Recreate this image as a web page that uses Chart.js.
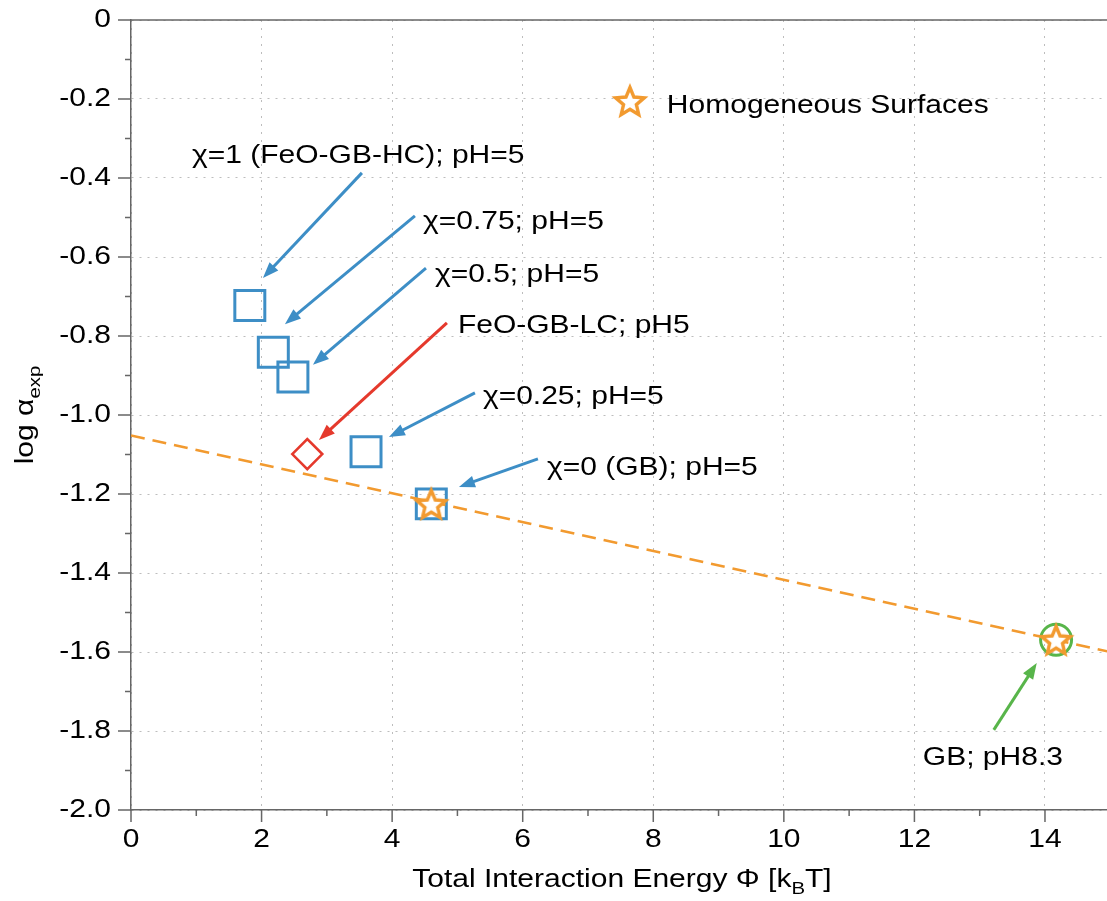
<!DOCTYPE html>
<html><head><meta charset="utf-8">
<script src="https://cdn.jsdelivr.net/npm/chart.js@4"></script>
<style>html,body{margin:0;padding:0;background:#fff;}canvas{display:block;}</style>
</head><body>
<canvas id="c" width="1107" height="901" style="width:1107px;height:901px"></canvas>
<script>
// ---- data ----
const squareLabels = ['χ=1 (FeO-GB-HC); pH=5', 'χ=0.75; pH=5', 'χ=0.5; pH=5', 'χ=0.25; pH=5', 'χ=0 (GB); pH=5'];
const squareX = [1.82, 2.18, 2.48, 3.60, 4.60];
const squareY = [-0.723, -0.841, -0.904, -1.093, -1.225];
const diamondLabel = 'FeO-GB-LC; pH5';
const diamondX = [2.70];
const diamondY = [-1.099];
const circleLabel = 'GB; pH8.3';
const circleX = [14.17];
const circleY = [-1.569];
const starLabel = 'Homogeneous Surfaces';
const starX = [4.60, 14.17];
const starY = [-1.225, -1.569];
const fitX = [0, 15];
const fitY = [-1.052, -1.600];
const xTickValues = [0, 2, 4, 6, 8, 10, 12, 14];
const xMinorTicks = [1, 3, 5, 7, 9, 11, 13];
const yTickValues = [0, -0.2, -0.4, -0.6, -0.8, -1.0, -1.2, -1.4, -1.6, -1.8, -2.0];
const yMinorTicks = [-0.1, -0.3, -0.5, -0.7, -0.9, -1.1, -1.3, -1.5, -1.7, -1.9];

// ---- style ----
const FONT = '"Liberation Sans", Arial, Helvetica, sans-serif';
const FS = 25;
const BLUE = '#3d8ec6', RED = '#e5392c', GREEN = '#58b54a', ORANGE = '#f29a2f', AXIS = '#666';
const STRETCH = 1.2;

// wide text rendering (text stays real canvas text)
const origFill = CanvasRenderingContext2D.prototype.fillText;
CanvasRenderingContext2D.prototype.fillText = function (t, x, y, mw) {
  this.save(); this.translate(x, y); this.scale(STRETCH, 1);
  if (mw === undefined || mw === null) origFill.call(this, t, 0, 0);
  else origFill.call(this, t, 0, 0, mw / STRETCH);
  this.restore();
};

function makeStar(r, color) {
  const s = Math.ceil(2 * (r + 9));
  const c = document.createElement('canvas'); c.width = s; c.height = s;
  const g = c.getContext('2d');
  const cx = s / 2, cy = s / 2 + 1.5, ri = r * 0.45;
  g.beginPath();
  for (let i = 0; i < 10; i++) {
    const a = -Math.PI / 2 + i * Math.PI / 5, rr = i % 2 ? ri : r;
    g.lineTo(cx + rr * Math.cos(a), cy + rr * Math.sin(a));
  }
  g.closePath(); g.fillStyle = '#fff'; g.fill();
  g.lineWidth = 3.4; g.lineJoin = 'miter'; g.strokeStyle = color; g.stroke();
  return c;
}
const starImg = makeStar(15, ORANGE);

const pts = (xs, ys) => xs.map((v, i) => ({x: v, y: ys[i]}));

function drawRich(ctx, parts, x, y, align) {
  let total = 0;
  parts.forEach(p => { ctx.font = (p.sub ? 17 : FS) + 'px ' + FONT; p.w = ctx.measureText(p.t).width * STRETCH; total += p.w; });
  let cx = align === 'center' ? x - total / 2 : x;
  ctx.textAlign = 'left'; ctx.textBaseline = 'alphabetic';
  parts.forEach(p => { ctx.font = (p.sub ? 17 : FS) + 'px ' + FONT; ctx.fillText(p.t, cx, y + (p.sub ? 7 : 0)); cx += p.w; });
}

const annot = {
  id: 'annot',
  afterDraw(chart) {
    const {ctx, chartArea: ca, scales: {x, y}} = chart;
    const X = v => x.getPixelForValue(v), Y = v => y.getPixelForValue(v);
    ctx.save();
    // top frame line
    ctx.strokeStyle = AXIS; ctx.lineWidth = 1.5; ctx.setLineDash([]);
    ctx.beginPath(); ctx.moveTo(ca.left, ca.top); ctx.lineTo(ca.right, ca.top); ctx.stroke();
    // tick marks
    ctx.beginPath();
    yTickValues.forEach(v => { ctx.moveTo(ca.left - 13, Y(v)); ctx.lineTo(ca.left, Y(v)); });
    yMinorTicks.forEach(v => { ctx.moveTo(ca.left - 6, Y(v)); ctx.lineTo(ca.left, Y(v)); });
    xTickValues.forEach(v => { ctx.moveTo(X(v), ca.bottom); ctx.lineTo(X(v), ca.bottom + 12); });
    xMinorTicks.forEach(v => { ctx.moveTo(X(v), ca.bottom); ctx.lineTo(X(v), ca.bottom + 6); });
    ctx.stroke();

    // arrows (data coordinates)
    function arrow(x1, y1, x2, y2, color) {
      const p1 = {x: X(x1), y: Y(y1)}, p2 = {x: X(x2), y: Y(y2)};
      const a = Math.atan2(p2.y - p1.y, p2.x - p1.x), L = 16, W = 6;
      const bx = p2.x - L * Math.cos(a), by = p2.y - L * Math.sin(a);
      ctx.strokeStyle = color; ctx.fillStyle = color; ctx.lineWidth = 3; ctx.lineCap = 'butt';
      ctx.beginPath(); ctx.moveTo(p1.x, p1.y); ctx.lineTo(bx + 2 * Math.cos(a), by + 2 * Math.sin(a)); ctx.stroke();
      ctx.beginPath(); ctx.moveTo(p2.x, p2.y);
      ctx.lineTo(bx + W * Math.sin(a), by - W * Math.cos(a));
      ctx.lineTo(bx - W * Math.sin(a), by + W * Math.cos(a));
      ctx.closePath(); ctx.fill();
    }
    arrow(3.537, -0.387, 2.021, -0.653, BLUE);
    arrow(4.349, -0.496, 2.358, -0.770, BLUE);
    arrow(4.518, -0.628, 2.787, -0.873, BLUE);
    arrow(4.839, -0.767, 2.879, -1.063, RED);
    arrow(5.268, -0.944, 3.951, -1.056, BLUE);
    arrow(6.233, -1.111, 5.023, -1.182, BLUE);
    arrow(13.216, -1.797, 13.874, -1.628, GREEN);

    // labels
    ctx.fillStyle = '#000'; ctx.font = FS + 'px ' + FONT; ctx.textAlign = 'left'; ctx.textBaseline = 'alphabetic';
    const lab = (t, xv, yv) => ctx.fillText(t, X(xv), Y(yv));
    lab(squareLabels[0], 0.934, -0.362);
    lab(squareLabels[1], 4.472, -0.529);
    lab(squareLabels[2], 4.655, -0.663);
    lab(diamondLabel, 5.008, -0.792);
    lab(squareLabels[3], 5.39, -0.972);
    lab(squareLabels[4], 6.371, -1.152);
    lab(circleLabel, 12.129, -1.886);

    // legend
    ctx.drawImage(starImg, X(7.642) - starImg.width / 2, Y(-0.205) - starImg.height / 2);
    lab(starLabel, 8.208, -0.235);

    // axis titles
    drawRich(ctx, [{t: 'Total Interaction Energy Φ [k'}, {t: 'B', sub: true}, {t: 'T]'}], (ca.left + ca.right) / 2 + 3, 887, 'center');
    ctx.save(); ctx.translate(33, (ca.top + ca.bottom) / 2); ctx.rotate(-Math.PI / 2);
    drawRich(ctx, [{t: 'log α'}, {t: 'exp', sub: true}], 0, 0, 'center');
    ctx.restore();
    ctx.restore();
  }
};

const noPad = s => { s.paddingLeft = 0; s.paddingRight = 0; s.paddingTop = 0; s.paddingBottom = 0; };
const tickFont = {size: FS, family: FONT};
new Chart(document.getElementById('c'), {
  type: 'scatter',
  data: {
    datasets: [
      {label: starLabel, data: pts(starX, starY), pointStyle: starImg, pointRadius: 17, showLine: false},
      {label: 'fit', type: 'line', data: pts(fitX, fitY), borderColor: ORANGE, borderWidth: 2.6, borderDash: [14, 8], pointRadius: 0, showLine: true, fill: false},
      {label: circleLabel, data: pts(circleX, circleY), pointStyle: 'circle', pointRadius: 15.5, borderWidth: 3, borderColor: GREEN, backgroundColor: 'rgba(0,0,0,0)', showLine: false},
      {label: diamondLabel, data: pts(diamondX, diamondY), pointStyle: 'rectRot', pointRadius: 15, borderWidth: 2.6, borderColor: RED, backgroundColor: 'rgba(0,0,0,0)', showLine: false},
      {label: 'squares', data: pts(squareX, squareY), pointStyle: 'rect', pointRadius: 21.2, borderWidth: 3, borderColor: BLUE, backgroundColor: 'rgba(0,0,0,0)', showLine: false}
    ]
  },
  options: {
    responsive: false, animation: false, devicePixelRatio: 1,
    layout: {autoPadding: false, padding: {top: 20, left: 0, right: 0, bottom: 0}},
    plugins: {legend: {display: false}, tooltip: {enabled: false}},
    scales: {
      x: {
        type: 'linear', min: 0, max: 14.95,
        afterBuildTicks: s => { s.ticks = xTickValues.map(v => ({value: v})); },
        afterFit: s => { s.height = 91; noPad(s); },
        grid: {color: '#bdbdbd', lineWidth: 1, drawTicks: false},
        border: {display: true, color: AXIS, width: 1.5, dash: [2, 6]},
        ticks: {padding: 15, font: tickFont, color: '#000', maxRotation: 0, autoSkip: false, callback: v => String(v)}
      },
      y: {
        type: 'linear', min: -2, max: 0,
        afterBuildTicks: s => { s.ticks = yTickValues.map(v => ({value: v})); },
        afterFit: s => { s.width = 131; noPad(s); },
        grid: {color: '#bdbdbd', lineWidth: 1, drawTicks: false},
        border: {display: true, color: AXIS, width: 1.5, dash: [2, 6]},
        ticks: {padding: 20, font: tickFont, color: '#000', autoSkip: false, callback: v => (v === 0 ? '0' : Number(v).toFixed(1))}
      }
    }
  },
  plugins: [annot]
});
</script>
</body></html>
